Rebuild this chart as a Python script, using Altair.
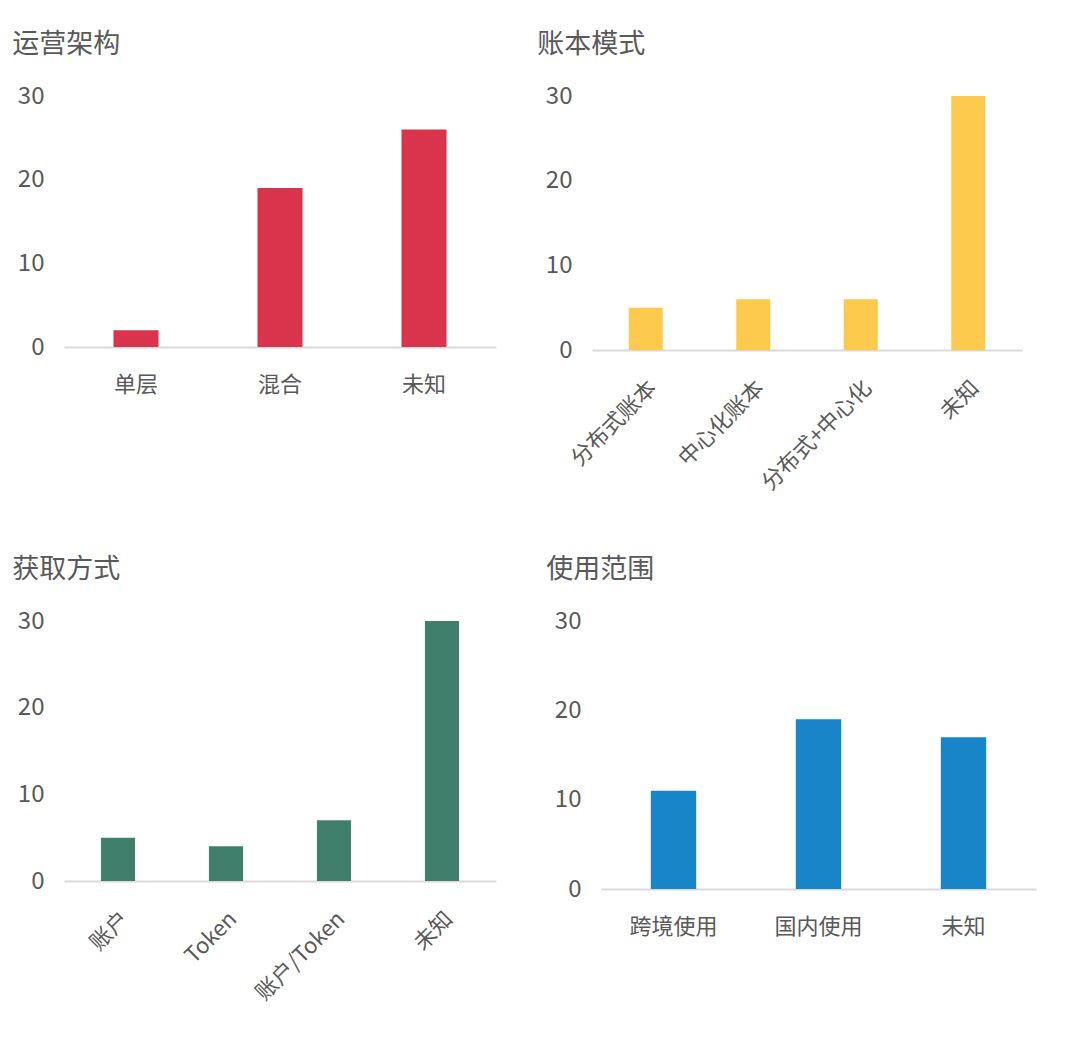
import altair as alt
import pandas as pd

# ---- data ----
titles = ["运营架构", "账本模式", "获取方式", "使用范围"]

cat1 = ["单层", "混合", "未知"]
val1 = [2, 19, 26]

cat2 = ["分布式账本", "中心化账本", "分布式+中心化", "未知"]
val2 = [5, 6, 6, 30]

cat3 = ["账户", "Token", "账户/Token", "未知"]
val3 = [5, 4, 7, 30]

cat4 = ["跨境使用", "国内使用", "未知"]
val4 = [11, 19, 17]

colors = ["#D8354D", "#FECA4E", "#417F6D", "#1785C8"]
y_ticks = [0, 10, 20, 30]

FONT = "Noto Sans CJK SC"
TXT = "#595959"


def panel(title, cats, vals, color, w, h, angle, pinner, title_dx=0):
    df = pd.DataFrame({"cat": cats, "val": vals})
    return (
        alt.Chart(df)
        .mark_bar(color=color)
        .encode(
            x=alt.X(
                "cat:N",
                sort=cats,
                title=None,
                scale=alt.Scale(paddingInner=pinner, paddingOuter=pinner / 2),
                axis=alt.Axis(
                    labelAngle=angle,
                    labelFontSize=22,
                    labelColor=TXT,
                    labelFont=FONT,
                    ticks=False,
                    domainColor="#D9D9D9",
                    domainWidth=2,
                    labelPadding=27,
                    grid=False,
                ),
            ),
            y=alt.Y(
                "val:Q",
                title=None,
                scale=alt.Scale(domain=[0, 30], nice=False),
                axis=alt.Axis(
                    values=y_ticks,
                    grid=False,
                    domain=False,
                    ticks=False,
                    labelFontSize=24,
                    labelColor=TXT,
                    labelFont=FONT,
                    labelPadding=20,
                ),
            ),
        )
        .properties(
            width=w,
            height=h,
            title=alt.TitleParams(
                text=title,
                anchor="start",
                frame="bounds",
                fontSize=27,
                font=FONT,
                color=TXT,
                fontWeight="normal",
                offset=25,
                dx=title_dx,
            ),
        )
    )


p1 = panel(titles[0], cat1, val1, colors[0], 432, 251, 0, 0.687, -5)
p2 = panel(titles[1], cat2, val2, colors[1], 430, 254, -45, 0.684, -8)
p3 = panel(titles[2], cat3, val3, colors[2], 432, 260, -45, 0.684, -5)
p4 = panel(titles[3], cat4, val4, colors[3], 435, 268, 0, 0.687, -8)

chart = (
    alt.vconcat(
        alt.hconcat(p1, p2, spacing=41),
        alt.hconcat(p3, p4, spacing=50),
        spacing=62,
    )
    .properties(padding={"left": 4, "top": 23, "right": 5, "bottom": 5})
    .configure_view(stroke=None)
)

chart.save("out.html", embed_options={"renderer": "svg", "actions": False})
